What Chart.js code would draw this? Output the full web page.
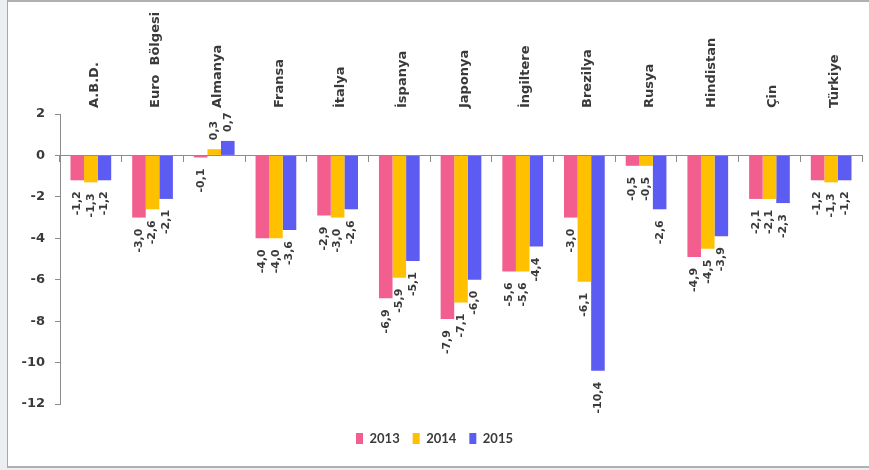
<!DOCTYPE html>
<html>
<head>
<meta charset="utf-8">
<script src="https://cdn.jsdelivr.net/npm/chart.js@4.4.1/dist/chart.umd.min.js"></script>
<style>
  body { margin: 0; background: #eceff0; }
  .frame { position: absolute; left: 7px; top: 0; width: 862px; height: 464px;
           background: #fff; border-left: 1px solid #a8a8a8; border-top: 2px solid #b0b0b0; border-bottom: 2px solid #b0b0b0; }
  #chart { position: absolute; left: 0; top: 0; }
</style>
</head>
<body>
<div class="frame"></div>
<canvas id="chart" width="869" height="470"></canvas>
<script>
const countries = ["A.B.D.", "Euro  Bölgesi", "Almanya", "Fransa", "İtalya", "İspanya", "Japonya",
    "İngiltere", "Brezilya", "Rusya", "Hindistan", "Çin", "Türkiye"];
const values2013 = [-1.2, -3.0, -0.1, -4.0, -2.9, -6.9, -7.9, -5.6, -3.0, -0.5, -4.9, -2.1, -1.2];
const values2014 = [-1.3, -2.6, 0.3, -4.0, -3.0, -5.9, -7.1, -5.6, -6.1, -0.5, -4.5, -2.1, -1.3];
const values2015 = [-1.2, -2.1, 0.7, -3.6, -2.6, -5.1, -6.0, -4.4, -10.4, -2.6, -3.9, -2.3, -1.2];
const yMin = -12;
const yMax = 2;
const yStep = 2;

const textColor = '#3a3a3a';
const axisColor = '#8c8c8c';

// value labels, rotated, outside the bar end
const barLabels = {
    id: 'barLabels',
    afterDatasetsDraw(chart) {
        const ctx = chart.ctx;
        ctx.save();
        ctx.font = 'bold 11px "DejaVu Sans"';
        ctx.fillStyle = textColor;
        ctx.textBaseline = 'middle';
        chart.data.datasets.forEach((ds, i) => {
            chart.getDatasetMeta(i).data.forEach((bar, j) => {
                const v = ds.data[j];
                const txt = v.toFixed(1).replace('.', ',');
                ctx.save();
                ctx.translate(bar.x, v < 0 ? bar.y + 11 : bar.y - 9);
                ctx.rotate(-Math.PI / 2);
                ctx.textAlign = v < 0 ? 'right' : 'left';
                ctx.fillText(txt, 0, 0);
                ctx.restore();
            });
        });
        ctx.restore();
    }
};

const chartData = {
    labels: countries,
    datasets: [
        { label: '2013', data: values2013, backgroundColor: '#F25F8E' },
        { label: '2014', data: values2014, backgroundColor: '#FFC000' },
        { label: '2015', data: values2015, backgroundColor: '#5C5CF2' },
    ]
};

const chartOptions = {
    responsive: false,
    animation: false,
    devicePixelRatio: 1,
    categoryPercentage: 0.66,
    barPercentage: 1,
    layout: {
        padding: { left: 7, right: 7, top: 0, bottom: 15 }
    },
    scales: {
        x: {
            type: 'category',
            position: { y: 0 },
            offset: true,
            ticks: { display: false },
            grid: { offset: true, drawOnChartArea: false, drawTicks: true, tickLength: 6, color: axisColor },
            border: { display: true, color: axisColor, width: 1 },
        },
        x2: {
            type: 'category',
            position: 'top',
            labels: countries,
            offset: true,
            grid: { display: false, drawTicks: false },
            border: { display: false },
            ticks: {
                minRotation: 90,
                maxRotation: 90,
                padding: 6,
                labelOffset: 19,
                color: textColor,
                font: { family: 'DejaVu Sans', weight: 'bold', size: 13 },
            },
            afterFit(scale) { scale.height = 114; },
        },
        y: {
            min: yMin,
            max: yMax,
            ticks: {
                stepSize: yStep,
                padding: 10,
                color: textColor,
                font: { family: 'DejaVu Sans', weight: 'bold', size: 13 },
            },
            grid: { drawOnChartArea: false, drawTicks: true, tickLength: 5, color: axisColor },
            border: { display: true, color: axisColor, width: 1 },
            afterFit(scale) { scale.width = 53; },
        },
    },
    plugins: {
        legend: {
            position: 'bottom',
            title: { display: true, text: '', font: { size: 10 }, padding: { top: 0, bottom: 3 } },
            labels: {
                boxWidth: 7,
                boxHeight: 11,
                padding: 13,
                color: textColor,
                font: { family: 'Lato', weight: 'bold', size: 13 },
            },
        },
        tooltip: { enabled: false },
    },
};

const chart = new Chart(document.getElementById('chart'), {
    type: 'bar',
    data: chartData,
    options: chartOptions,
    plugins: [barLabels],
});
</script>
</body>
</html>
